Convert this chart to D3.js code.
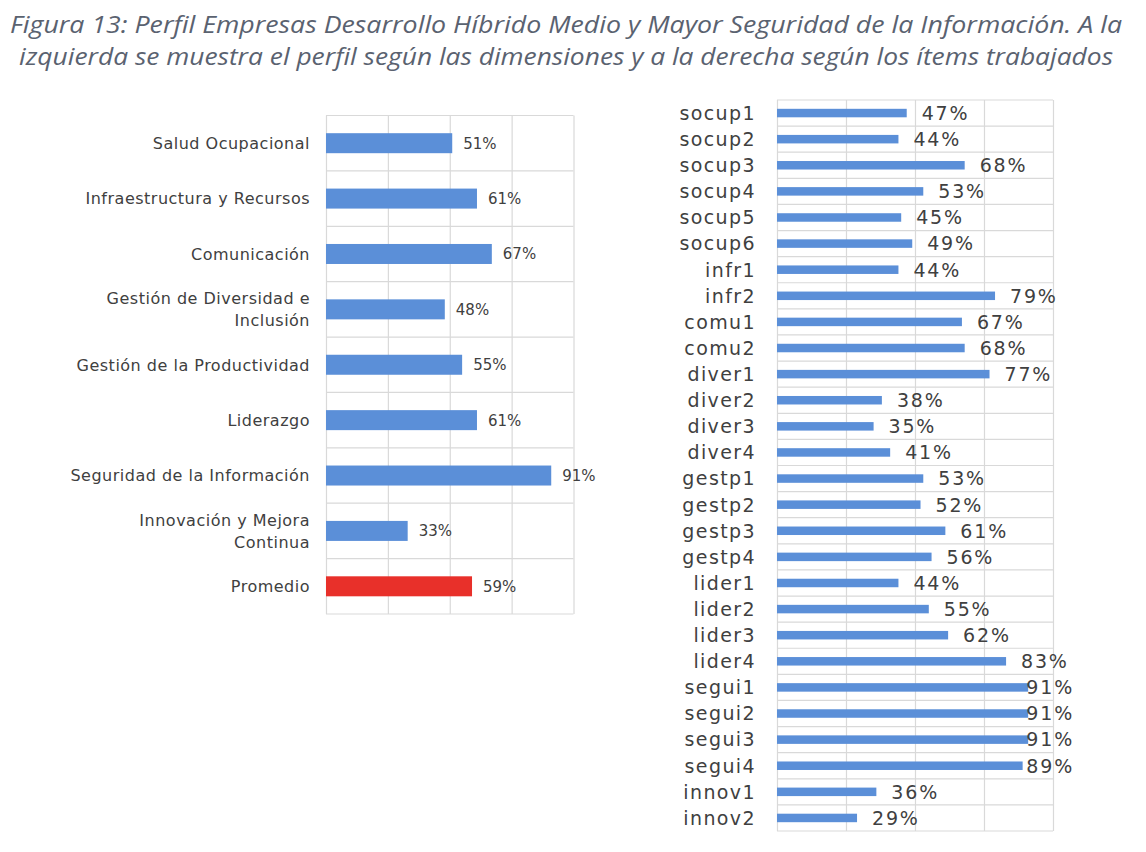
<!DOCTYPE html>
<html><head><meta charset="utf-8">
<script src="https://cdn.jsdelivr.net/npm/d3@7"></script>
<style>body{margin:0;background:#fff}svg{display:block}</style>
</head><body>
<script>
const titleLines = [
  "Figura 13: Perfil Empresas Desarrollo Híbrido Medio y Mayor Seguridad de la Información. A la",
  "izquierda se muestra el perfil según las dimensiones y a la derecha según los ítems trabajados"
];
const dimCategories = ["Salud Ocupacional","Infraestructura y Recursos","Comunicación","Gestión de Diversidad e\nInclusión","Gestión de la Productividad","Liderazgo","Seguridad de la Información","Innovación y Mejora\nContinua","Promedio"];
const dimValues = [0.51,0.61,0.67,0.48,0.55,0.61,0.91,0.33,0.59];
const itemCategories = ["socup1","socup2","socup3","socup4","socup5","socup6","infr1","infr2","comu1","comu2","diver1","diver2","diver3","diver4","gestp1","gestp2","gestp3","gestp4","lider1","lider2","lider3","lider4","segui1","segui2","segui3","segui4","innov1","innov2"];
const itemValues = [0.47,0.44,0.68,0.53,0.45,0.49,0.44,0.79,0.67,0.68,0.77,0.38,0.35,0.41,0.53,0.52,0.61,0.56,0.44,0.55,0.62,0.83,0.91,0.91,0.91,0.89,0.36,0.29];
const gridTicks = [0,0.25,0.5,0.75,1];

const W = 1146, H = 852;
const svg = d3.select("body").append("svg").attr("width", W).attr("height", H);
svg.append("rect").attr("width", W).attr("height", H).attr("fill", "#fff");

const BLUE = "#5b8fd8", RED = "#e8302a", GRID = "#d9d9d9", TXT = "#404040";
const FONT = "'DejaVu Sans', sans-serif";

// title
svg.append("g").selectAll("text").data(titleLines).join("text")
  .attr("x", 566).attr("y", (d,i) => 33 + i*32)
  .attr("text-anchor", "middle")
  .attr("font-family", "'Open Sans', sans-serif").attr("font-style", "italic")
  .attr("font-size", 24).attr("fill", "#5a6270")
  .attr("textLength", (d,i) => i === 0 ? 1112 : 1094)
  .attr("lengthAdjust", "spacingAndGlyphs")
  .text(d => d);

function drawChart(opts) {
  const {cats, vals, x0, x1, y0, y1, barH, labelSize, valueSize, labelGap, valueGap, colorFn, lineH, labelSpacing, valueSpacing, valueMaxRight} = opts;
  const g = svg.append("g");
  const x = d3.scaleLinear().domain([0,1]).range([x0, x1]);
  const rows = d3.scaleBand().domain(cats).range([y0, y1]).padding(0);
  const pin = 1 - barH / rows.step();
  const y = d3.scaleBand().domain(cats).range([y0, y1]).paddingInner(pin).paddingOuter(pin/2);

  // vertical grid
  g.append("g").attr("transform", `translate(0,${y1})`)
    .call(d3.axisBottom(x).tickValues(gridTicks).tickSize(-(y1 - y0)).tickFormat(""))
    .call(a => a.select(".domain").remove())
    .call(a => a.selectAll(".tick line").attr("stroke", GRID).attr("stroke-width", 1.2));
  // horizontal grid (row boundaries)
  const bounds = cats.map(c => rows(c)).concat([y1]);
  g.append("g").selectAll("line").data(bounds).join("line")
    .attr("x1", x0).attr("x2", x1).attr("y1", d => d).attr("y2", d => d)
    .attr("stroke", GRID).attr("stroke-width", 1.2);

  // bars
  g.append("g").selectAll("rect").data(cats).join("rect")
    .attr("x", x(0)).attr("y", c => y(c))
    .attr("width", (c,i) => x(vals[i]) - x(0)).attr("height", y.bandwidth())
    .attr("fill", (c,i) => colorFn(c,i));

  // category labels
  const lab = g.append("g").selectAll("text").data(cats).join("text")
    .attr("x", x0 - labelGap)
    .attr("y", c => y(c) + y.bandwidth()/2)
    .attr("text-anchor", "end")
    .attr("letter-spacing", labelSpacing)
    .attr("font-family", FONT).attr("font-size", labelSize).attr("fill", TXT);
  lab.each(function(c){
    const lines = c.split("\n");
    const t = d3.select(this);
    lines.forEach((l, k) => {
      t.append("tspan").attr("x", x0 - labelGap)
        .attr("dy", k === 0 ? ((-(lines.length-1)/2)*lineH + labelSize*0.36) : lineH)
        .text(l);
    });
  });

  // value labels (kept inside the chart area on the right, as in the original)
  g.append("g").selectAll("text").data(cats).join("text")
    .attr("x", (c,i) => x(vals[i]) + valueGap)
    .attr("y", c => y(c) + y.bandwidth()/2)
    .attr("dy", "0.36em")
    .attr("letter-spacing", valueSpacing)
    .attr("font-family", FONT).attr("font-size", valueSize).attr("fill", TXT)
    .text((c,i) => d3.format(".0%")(vals[i]))
    .each(function(){
      if (valueMaxRight) {
        const w = this.getComputedTextLength();
        const cx = +this.getAttribute("x");
        if (cx + w > valueMaxRight) this.setAttribute("x", valueMaxRight - w);
      }
    });
}

drawChart({
  cats: dimCategories, vals: dimValues,
  x0: 326, x1: 573.5, y0: 115.5, y1: 614,
  barH: 20, labelSize: 16, valueSize: 15, labelGap: 16, valueGap: 11, lineH: 22,
  labelSpacing: 0.5, valueSpacing: 0,
  colorFn: (c,i) => c === "Promedio" ? RED : BLUE
});

drawChart({
  cats: itemCategories, vals: itemValues,
  x0: 777, x1: 1053, y0: 100, y1: 831,
  barH: 8.5, labelSize: 19, valueSize: 19, labelGap: 21, valueGap: 15, lineH: 20,
  labelSpacing: 1.4, valueSpacing: 1.8, valueMaxRight: 1074,
  colorFn: () => BLUE
});
</script>
</body></html>
